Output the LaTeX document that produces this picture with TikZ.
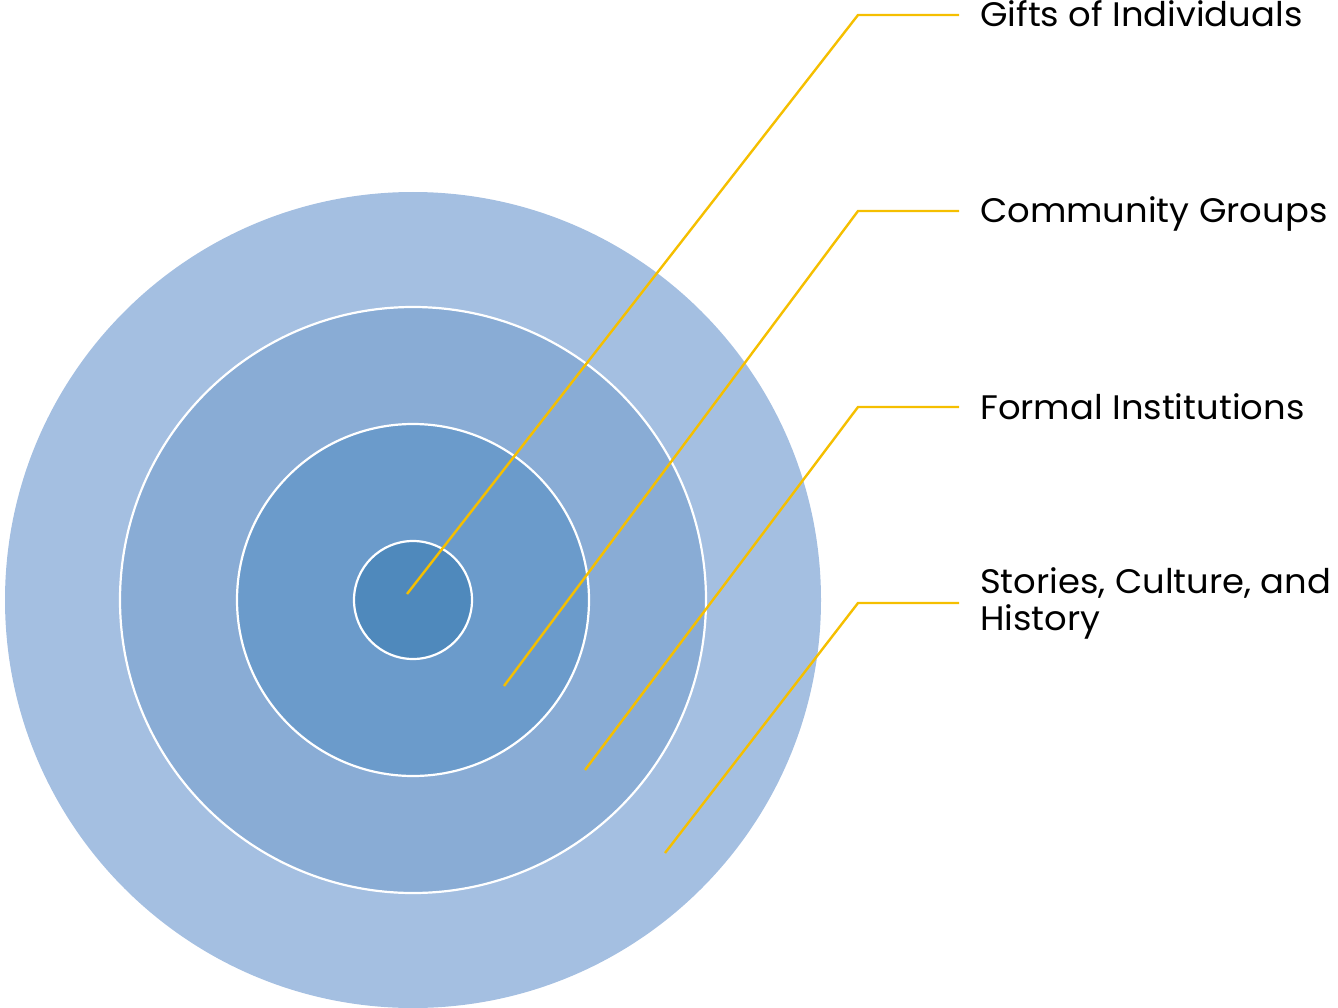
\documentclass[tikz,border=0pt]{standalone}
\usepackage{fontspec}
\setmainfont{Poppins}[FakeStretch=1.04]
\definecolor{ringA}{HTML}{A4BFE1}
\definecolor{ringB}{HTML}{89ACD5}
\definecolor{ringC}{HTML}{6B9BCB}
\definecolor{ringD}{HTML}{4F89BC}
\definecolor{gold}{HTML}{F5BF00}
\tikzset{
  ring/.style={circle, inner sep=0pt, draw=white, line width=2.2pt},
  leader/.style={draw=gold, line width=2.4pt},
  lbl/.style={anchor=base west, inner sep=0pt, font=\fontsize{34}{37}\selectfont, align=left, text=black}
}
\begin{document}
\begin{tikzpicture}[x=1pt,y=-1pt]
\useasboundingbox (0,0) rectangle (1338,1008);
\node[ring, draw=none, fill=ringA, minimum size=816pt] (r1) at (413,600) {};
\node[ring, fill=ringB, minimum size=586pt] (r2) at (413,600) {};
\node[ring, fill=ringC, minimum size=352pt] (r3) at (413,600) {};
\node[ring, fill=ringD, minimum size=118pt] (r4) at (413,600) {};
\coordinate (p1) at (407,594);
\coordinate (p2) at (504,686);
\coordinate (p3) at (585,770);
\coordinate (p4) at (665,853);
\coordinate (k1) at (858,15);
\coordinate (k2) at (858,211);
\coordinate (k3) at (858,407);
\coordinate (k4) at (858,603);
\coordinate (e1) at (959,15);
\coordinate (e2) at (959,211);
\coordinate (e3) at (959,407);
\coordinate (e4) at (959,603);
\draw[leader] (p1) -- (k1) -- (e1);
\draw[leader] (p2) -- (k2) -- (e2);
\draw[leader] (p3) -- (k3) -- (e3);
\draw[leader] (p4) -- (k4) -- (e4);
\node[lbl] (t1) at (980,27) {Gifts of Individuals};
\node[lbl] (t2) at (980,223) {Community Groups};
\node[lbl] (t3) at (980,419) {Formal Institutions};
\node[lbl] (t4) at (980,630) {Stories, Culture, and\\History};
\end{tikzpicture}
\end{document}
